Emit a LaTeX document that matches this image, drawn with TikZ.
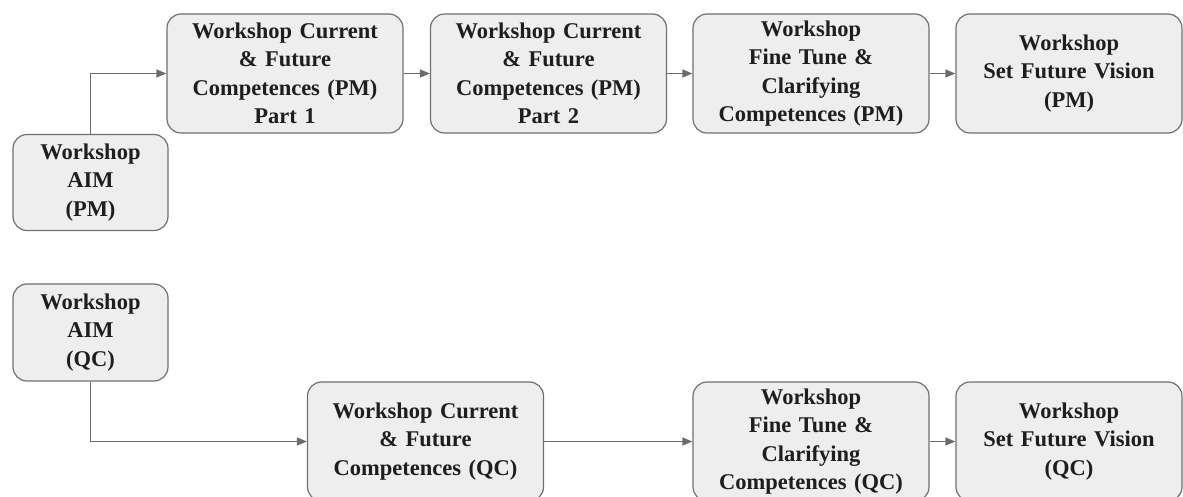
\documentclass[tikz,border=0pt]{standalone}
\usepackage{fontspec}
\setmainfont{Liberation Serif}
\usepackage{xcolor}
\usetikzlibrary{arrows.meta,positioning}
\definecolor{boxfill}{HTML}{EEEEEE}
\definecolor{boxline}{HTML}{707070}
\definecolor{linkgray}{HTML}{6B6B6B}
\definecolor{ink}{HTML}{1E1E1E}

\tikzset{
  wsbox/.style={draw=boxline,fill=boxfill,line width=1.2pt,rounded corners=14pt,
    align=center,text=ink,font=\fontsize{22.5}{28.5}\selectfont\bfseries,
    inner xsep=5pt,inner ysep=0pt,text width=226pt,minimum height=119pt},
  aimbox/.style={wsbox,text width=145pt,minimum height=96pt},
  link/.style={draw=linkgray,line width=1.2pt,-{Triangle[length=10pt,width=8pt]}}
}

\begin{document}
\begin{tikzpicture}[x=1pt,y=1pt]
\useasboundingbox (0,0) rectangle (1183,496);
\clip (0,0) rectangle (1183,496);

\node[aimbox] (aimPM) at (90.5,313.5) {Workshop\\AIM\\(PM)};
\node[wsbox] (pmOne) at (285,422.5) {Workshop Current\\\& Future\\Competences (PM)\\Part 1};
\node[wsbox] (pmTwo) at (548.5,422.5) {Workshop Current\\\& Future\\Competences (PM)\\Part 2};
\node[wsbox] (pmTune) at (811,422.5) {Workshop\\Fine Tune \&\\Clarifying\\Competences (PM)};
\node[wsbox,text width=216pt] (pmVision) at (1069,422.5) {Workshop\\Set Future Vision\\(PM)};

\node[aimbox,minimum height=97pt] (aimQC) at (90.5,163.5) {Workshop\\AIM\\(QC)};
\node[wsbox] (qcOne) at (425.5,54.5) {Workshop Current\\\& Future\\Competences (QC)};
\node[wsbox] (qcTune) at (811,54.5) {Workshop\\Fine Tune \&\\Clarifying\\Competences (QC)};
\node[wsbox,text width=216pt] (qcVision) at (1069,54.5) {Workshop\\Set Future Vision\\(QC)};

\draw[link] (aimPM.north) |- (pmOne.west);
\draw[link] (pmOne) -- (pmTwo);
\draw[link] (pmTwo) -- (pmTune);
\draw[link] (pmTune) -- (pmVision);

\draw[link] (aimQC.south) |- (qcOne.west);
\draw[link] (qcOne) -- (qcTune);
\draw[link] (qcTune) -- (qcVision);
\end{tikzpicture}
\end{document}
